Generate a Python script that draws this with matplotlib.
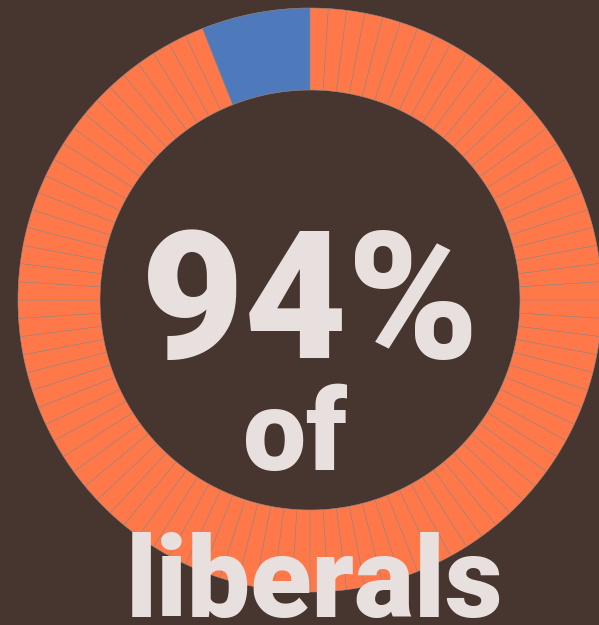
import matplotlib
matplotlib.use("Agg")
import matplotlib.pyplot as plt

# data: 94 one-percent slices for liberals, the rest in one block
share_liberals = 94
share_other = 100 - share_liberals
valores = [1] * share_liberals + [share_other]
cores = ["#FF7849"] * share_liberals + ["#4E79BA"]

fundo = "#47352F"
texto = "#E8E0DE"

fig = plt.figure(figsize=(5.99, 6.25), dpi=100, facecolor=fundo)
ax = fig.add_axes([0, 0, 1, 1])
ax.set_facecolor(fundo)

ax.pie(valores, colors=cores, startangle=90, counterclock=False,
       center=(310, 325), radius=292,
       wedgeprops=dict(width=292 - 210, edgecolor="#A08A84", linewidth=0.4))

# pie mexe nos limites, entao os limites vem depois
ax.set_xlim(0, 599)
ax.set_ylim(0, 625)
ax.set_aspect("equal")
ax.axis("off")

ax.text(310, 267, "94%", ha="center", va="baseline", color=texto,
        fontsize=128, fontweight="black", family="Roboto")
ax.text(295, 155, "of", ha="center", va="baseline", color=texto,
        fontsize=81, fontweight="black", family="Roboto")
ax.text(315, 8, "liberals", ha="center", va="baseline", color=texto,
        fontsize=81, fontweight="black", family="Roboto")

fig.savefig("out.png", dpi=100, facecolor=fundo)
